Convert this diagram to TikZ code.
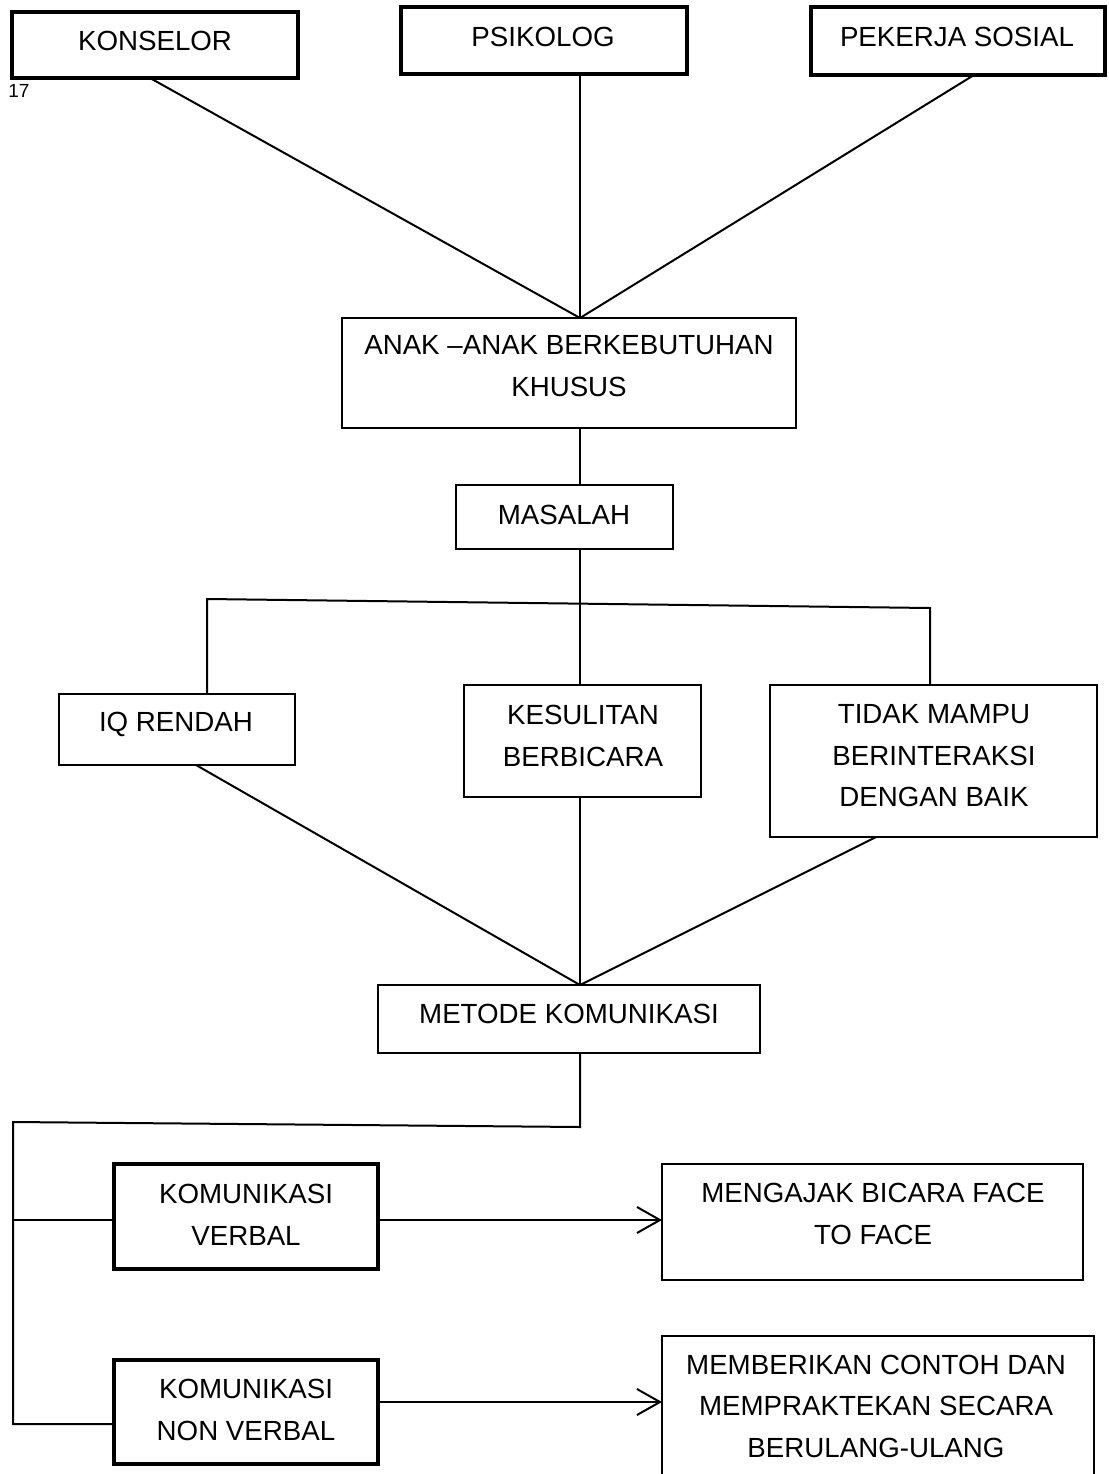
\documentclass[tikz,border=0pt]{standalone}
\usepackage{fontspec}
\setmainfont{Liberation Sans}
\usetikzlibrary{arrows.meta}
\tikzset{
  boxthin/.style={draw=black, line width=2pt, inner sep=0pt, outer sep=0pt},
  boxthick/.style={draw=black, line width=3.6pt, inner sep=0pt, outer sep=0pt},
  txt/.style={inner sep=0pt, outer sep=0pt, align=center, font=\fontsize{27.7}{41.5}\selectfont},
  conn/.style={draw=black, line width=2pt, line join=miter},
  arr/.style={conn, -{Straight Barb[length=23pt,width=26pt,line width=2pt]}}
}
\begin{document}
\begin{tikzpicture}[x=1pt,y=-1pt]
\clip (0,0) rectangle (1108,1474);
\fill[white] (0,0) rectangle (1108,1474);
% boxes
\node[boxthick, minimum width=286pt, minimum height=66pt] (konselor) at (155,45) {};
\node[boxthick, minimum width=286pt, minimum height=67pt] (psikolog) at (544,40.5) {};
\node[boxthick, minimum width=294pt, minimum height=68pt] (pekerja) at (958,41) {};
\node[boxthin, minimum width=454pt, minimum height=110pt] (anak) at (569,373) {};
\node[boxthin, minimum width=217pt, minimum height=64pt] (masalah) at (564.5,517) {};
\node[boxthin, minimum width=236pt, minimum height=71pt] (iq) at (177,729.5) {};
\node[boxthin, minimum width=237pt, minimum height=112pt] (kes) at (582.5,741) {};
\node[boxthin, minimum width=327pt, minimum height=152pt] (tidak) at (933.5,761) {};
\node[boxthin, minimum width=382pt, minimum height=68pt] (metode) at (569,1019) {};
\node[boxthick, minimum width=264pt, minimum height=105pt] (komv) at (246,1216.5) {};
\node[boxthick, minimum width=264pt, minimum height=104pt] (komn) at (246,1412) {};
\node[boxthin, minimum width=421pt, minimum height=116pt] (mengajak) at (872.5,1222) {};
\node[boxthin, minimum width=432pt, minimum height=164pt] (memberi) at (878,1418) {};
% texts
\node[txt] (tkonselor) at (155,41) {KONSELOR};
\node[txt] (tpsikolog) at (543,37) {PSIKOLOG};
\node[txt] (tpekerja) at (957,37) {PEKERJA SOSIAL};
\node[inner sep=0pt, font=\fontsize{19}{21}\selectfont] (tnum) at (19,90.5) {17};
\node[txt] (tanak) at (569,366) {ANAK –ANAK BERKEBUTUHAN\\KHUSUS};
\node[txt] (tmasalah) at (564,515) {MASALAH};
\node[txt] (tiq) at (176,724) {IQ RENDAH};
\node[txt] (tkes) at (583,736) {KESULITAN\\BERBICARA};
\node[txt] (ttidak) at (934,756) {TIDAK MAMPU\\BERINTERAKSI\\DENGAN BAIK};
\node[txt] (tmetode) at (569,1014) {METODE KOMUNIKASI};
\node[txt] (tkomv) at (246,1215) {KOMUNIKASI\\VERBAL};
\node[txt] (tkomn) at (246,1410) {KOMUNIKASI\\NON VERBAL};
\node[txt] (tmengajak) at (873,1214) {MENGAJAK BICARA FACE\\TO FACE};
\node[txt] (tmemberi) at (876,1406) {MEMBERIKAN CONTOH DAN\\MEMPRAKTEKAN SECARA\\BERULANG-ULANG};
% connectors top
\draw[conn] ([xshift=-5pt]konselor.south) -- ([xshift=11pt]anak.north);
\draw[conn] ([xshift=36pt]psikolog.south) -- ([xshift=11pt]anak.north);
\draw[conn] ([xshift=16pt]pekerja.south) -- ([xshift=11pt]anak.north);
\draw[conn] ([xshift=11pt]anak.south) -- ([xshift=15.5pt]masalah.north);
\draw[conn] ([xshift=15.5pt]masalah.south) -- ([xshift=-2.5pt]kes.north);
\draw[conn] ([xshift=30pt]iq.north) -- ([xshift=30pt,yshift=95pt]iq.north)
  -- ([xshift=-3.5pt,yshift=77pt]tidak.north) -- ([xshift=-3.5pt]tidak.north);
% connectors to metode
\draw[conn] ([xshift=19pt]iq.south) -- ([xshift=11pt]metode.north);
\draw[conn] ([xshift=-2.5pt]kes.south) -- ([xshift=11pt]metode.north);
\draw[conn] ([xshift=-57.5pt]tidak.south) -- ([xshift=11pt]metode.north);
% bus
\coordinate (busT) at (13,1122);
\coordinate (busM) at (13,1220);
\coordinate (busB) at (13,1424);
\draw[conn] ([xshift=11pt]metode.south) -- ([xshift=11pt,yshift=-74pt]metode.south)
  -- (busT) -- (busB) -- ([yshift=-12pt]komn.west);
\draw[conn] (busM) -- ([yshift=-3.5pt]komv.west);
% arrows
\draw[arr] ([yshift=-3.5pt]komv.east) -- ([yshift=-3.5pt]komv.east -| mengajak.west);
\draw[arr] ([yshift=10pt]komn.east) -- ([yshift=10pt]komn.east -| memberi.west);
\end{tikzpicture}
\end{document}
